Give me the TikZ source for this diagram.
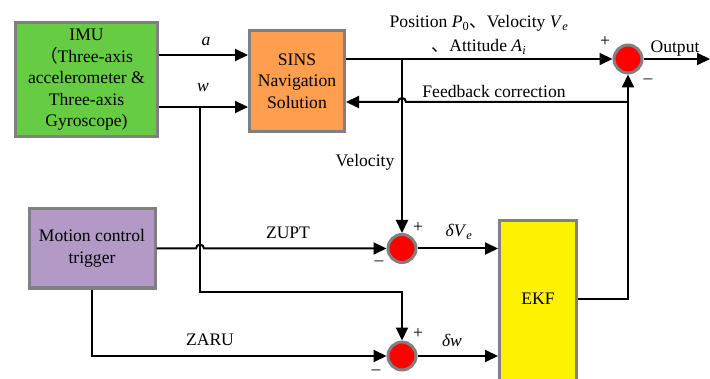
\documentclass[tikz,border=0pt]{standalone}
\usepackage{fontspec}
\setmainfont{Liberation Serif}
\newfontfamily\cjk{Noto Sans CJK SC}
\usetikzlibrary{arrows.meta}
\definecolor{imugreen}{RGB}{102,204,68}
\definecolor{sinsorange}{RGB}{255,158,78}
\definecolor{mctpurple}{RGB}{178,153,198}
\definecolor{bordergray}{RGB}{128,128,128}
\begin{document}
\begin{tikzpicture}[x=1pt,y=1pt,
  every node/.style={font=\fontsize{17.6}{21.5}\selectfont, inner sep=0pt},
  blk/.style={draw=bordergray, line width=3pt, align=center},
  sumc/.style={circle, draw=bordergray, line width=3pt, fill=red, minimum size=28pt},
  arr/.style={line width=2pt, -{Triangle[length=13pt,width=12pt]}},
  ln/.style={line width=2pt},
  lbl/.style={inner sep=1pt}]
\useasboundingbox (0,0) rectangle (710,378);
% blocks
\node[blk, fill=imugreen, minimum width=142pt, minimum height=114pt] (IMU) at (86.5,298)
  {IMU\\{\cjk （}Three-axis\\accelerometer \&\\Three-axis\\Gyroscope)};
\node[blk, fill=sinsorange, minimum width=95pt, minimum height=101pt] (SINS) at (297,297)
  {SINS\\Navigation\\Solution};
\node[blk, fill=mctpurple, minimum width=126pt, minimum height=79pt] (MCT) at (92,129.5)
  {Motion control\\trigger};
\node[blk, fill=yellow, minimum width=77pt, minimum height=200pt, anchor=north] (EKF) at (538,158.5) {};
\node (EKFt) at (538,79) {EKF};
% summing junctions
\node[sumc] (c1) at (628,319) {};
\node[sumc] (c2) at (402,129.5) {};
\node[sumc] (c3) at (402,22) {};
% helper coordinates
\coordinate (ya) at (0,323);
\coordinate (yw) at (0,271);
\coordinate (yf) at (0,276);
\coordinate (jw) at (200,271);
\coordinate (jv) at (402,319);
\coordinate (wc) at (200,86);
\coordinate (wc2) at (402,86);
\coordinate (zc) at (92,22);
\coordinate (ec) at (628,79);
\coordinate (out) at (710,319);
% connectors
\draw[arr] (IMU.east |- ya) -- (SINS.west |- ya);
\draw[arr] (IMU.east |- yw) -- (SINS.west |- yw);
\draw[arr] (SINS.east |- c1) -- (c1.west);
\draw[arr] (c1.east) -- (out);
\draw[arr] (jv) -- (c2.north);
\draw[arr] (EKF.east |- ec) -- (ec) -- (c1.south);
\draw[arr] (ec |- yf) -- (406,276) arc[start angle=0, end angle=180, radius=4] -- (SINS.east |- yf);
\draw[arr] (jw) -- (wc) -- (wc2) -- (c3.north);
\draw[arr] (MCT.east) -- (196,129.5) arc[start angle=180, end angle=0, radius=4] -- (c2.west);
\draw[arr] (MCT.south) -- (zc) -- (c3.west);
\draw[arr] (c2.east) -- (EKF.west |- c2);
\draw[arr] (c3.east) -- (EKF.west |- c3);
% labels
\node[lbl] (la) at (206,337) {\textit{a}};
\node[lbl] (lw) at (203,290) {\textit{w}};
\node[lbl, align=center, font=\fontsize{17.6}{24}\selectfont] (lpos) at (479,343)
  {Position \textit{P}\textsubscript{0}{\cjk 、}Velocity \textit{V}\textsubscript{\textit{e}}\\{\cjk 、}Attitude \textit{A}\textsubscript{\textit{i}}};
\node[lbl] (lvel) at (365,216) {Velocity};
\node[lbl] (lfb) at (494,287) {Feedback correction};
\node[lbl] (lout) at (675,329) {Output};
\node[lbl] (p1) at (605,336) {+};
\node[lbl] (m1) at (648,297) {\textendash};
\node[lbl] (p2) at (418,150) {+};
\node[lbl] (m2) at (379,115) {\textendash};
\node[lbl] (p3) at (418,44) {+};
\node[lbl] (m3) at (376,6) {\textendash};
\node[lbl] (ldv) at (459,146) {\textit{δV}\textsubscript{\textit{e}}};
\node[lbl] (ldw) at (452,38) {\textit{δw}};
\node[lbl] (lzupt) at (288,145) {ZUPT};
\node[lbl] (lzaru) at (210,38) {ZARU};
\end{tikzpicture}
\end{document}
